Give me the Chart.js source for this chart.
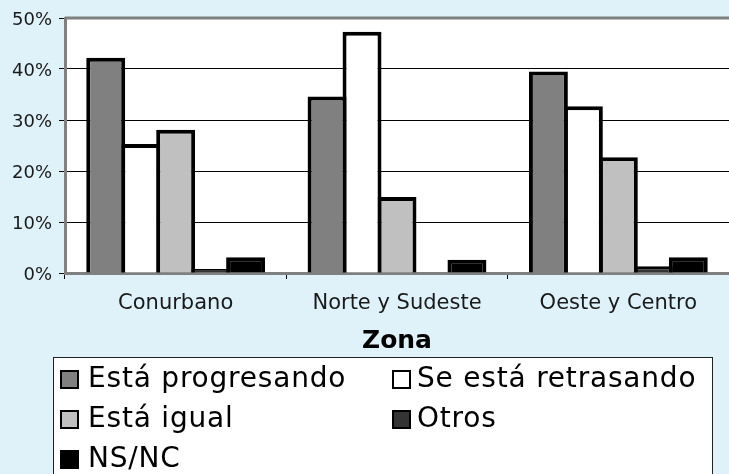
<!DOCTYPE html>
<html>
<head>
<meta charset="utf-8">
<script src="https://cdn.jsdelivr.net/npm/chart.js@4"></script>
<style>
  html, body { margin: 0; padding: 0; background: rgb(223, 242, 250); overflow: hidden; }
  #wrap { width: 729px; height: 474px; }
  canvas { display: block; }
</style>
</head>
<body>
<div id="wrap"><canvas id="myChart" width="729" height="474"></canvas></div>
<script>
const zonas = ["Conurbano", "Norte y Sudeste", "Oeste y Centro"];

const progresando = [42.2, 34.6, 39.5];
const retrasando = [25.3, 47.3, 32.7];
const igual = [28.1, 14.9, 22.7];
const otros = [0.8, 0, 1.3];
const nsnc = [3.1, 2.6, 3.1];

const yTicks = [0, 10, 20, 30, 40, 50];

const data = {
  labels: zonas,
  datasets: [
    { label: "Está progresando", data: progresando, backgroundColor: "#808080" },
    { label: "Se está retrasando", data: retrasando, backgroundColor: "#ffffff" },
    { label: "Está igual", data: igual, backgroundColor: "#c0c0c0" },
    { label: "Otros", data: otros, backgroundColor: "#333333" },
    { label: "NS/NC", data: nsnc, backgroundColor: "#000000" },
  ],
};

// neighbouring bars overlap by one border so they share it
data.datasets.forEach((ds) => {
  ds.borderColor = "#000000";
  ds.borderWidth = 4;
  ds.categoryPercentage = 0.79;
  ds.barPercentage = 1.114;
});

// white plot area with grey top frame
const plotBg = {
  id: "plotBg",
  beforeDraw(chart) {
    const { ctx, chartArea: a } = chart;
    ctx.save();
    ctx.fillStyle = "#ffffff";
    ctx.fillRect(a.left, a.top, a.right - a.left, a.bottom - a.top);
    ctx.restore();
  },
  afterDraw(chart) {
    const { ctx, chartArea: a } = chart;
    ctx.save();
    ctx.strokeStyle = "#808080";
    ctx.lineWidth = 3;
    ctx.beginPath();
    ctx.moveTo(a.left, a.top);
    ctx.lineTo(a.right, a.top);
    ctx.stroke();
    ctx.restore();
  },
};

// legend box in two columns
const boxLegend = {
  id: "boxLegend",
  afterDraw(chart) {
    const ctx = chart.ctx;
    ctx.save();
    ctx.fillStyle = "#ffffff";
    ctx.fillRect(53, 357, 659, 130);
    ctx.strokeStyle = "#222222";
    ctx.lineWidth = 1;
    ctx.strokeRect(53.5, 357.5, 659, 130);
    ctx.font = "28px 'DejaVu Sans'";
    ctx.textBaseline = "alphabetic";
    ctx.letterSpacing = "0.8px";
    chart.data.datasets.forEach((ds, i) => {
      const col = i % 2;
      const row = Math.floor(i / 2);
      const sx = col === 0 ? 61 : 393;
      const tx = col === 0 ? 88 : 417;
      const base = 387 + row * 40;
      ctx.fillStyle = ds.backgroundColor;
      ctx.fillRect(sx, base - 16, 17, 17);
      ctx.strokeStyle = "#000000";
      ctx.lineWidth = 2;
      ctx.strokeRect(sx, base - 16, 17, 17);
      ctx.fillStyle = "#000000";
      ctx.fillText(ds.label, tx, base);
    });
    ctx.restore();
  },
};

const config = {
  type: "bar",
  data: data,
  options: {
    responsive: false,
    animation: false,
    layout: { padding: { top: 18, right: 0, bottom: 118, left: 0 } },
    plugins: {
      legend: { display: false },
      tooltip: { enabled: false },
    },
    scales: {
      x: {
        offset: true,
        grid: {
          offset: true,
          drawOnChartArea: false,
          drawTicks: true,
          tickLength: 6,
          tickColor: "#000000",
        },
        border: { color: "#808080", width: 3 },
        ticks: {
          color: "#1a1a1a",
          padding: 12,
          font: { family: "'DejaVu Sans'", size: 21 },
        },
        title: {
          display: true,
          text: "Zona",
          color: "#000000",
          padding: { top: 4, bottom: 0 },
          font: { family: "'DejaVu Sans'", size: 25, weight: "bold" },
        },
        afterFit(scale) { scale.height = 83; },
      },
      y: {
        min: 0,
        max: 50,
        afterBuildTicks(scale) { scale.ticks = yTicks.map((v) => ({ value: v })); },
        grid: {
          color: "#000000",
          lineWidth: 1,
          tickLength: 6,
          tickColor: "#000000",
        },
        border: { color: "#808080", width: 3 },
        ticks: {
          color: "#1a1a1a",
          padding: 7,
          labelOffset: 2,
          font: { family: "'DejaVu Sans'", size: 18 },
          callback: (v) => v + "%",
        },
        afterFit(scale) { scale.width = 65; },
      },
    },
  },
  plugins: [plotBg, boxLegend],
};

const barChart = new Chart(document.getElementById("myChart"), config);
</script>
</body>
</html>
